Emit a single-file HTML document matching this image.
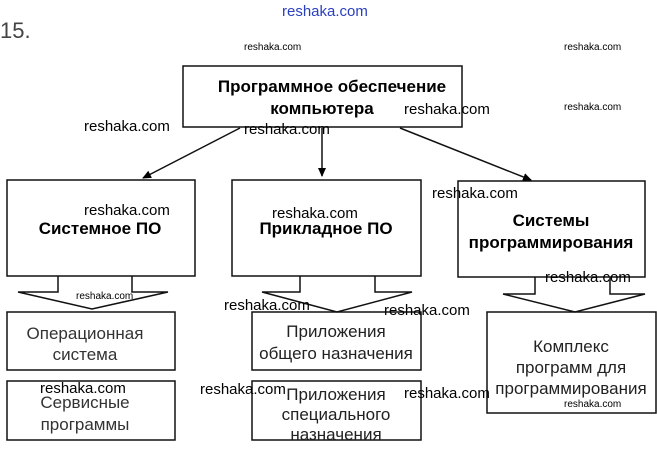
<!DOCTYPE html>
<html><head><meta charset="utf-8"><style>
body{margin:0;background:#fff}
svg text{font-family:"Liberation Sans",Arial,sans-serif}
</style></head><body>
<svg width="657" height="444" viewBox="0 0 657 444" xmlns="http://www.w3.org/2000/svg">
<defs><marker id="a" markerWidth="10" markerHeight="10" refX="8" refY="4" orient="auto" markerUnits="userSpaceOnUse"><path d="M0,0 L9,4 L0,8 z" fill="#000"/></marker></defs>
<g fill="none" stroke="#111" stroke-width="1.5">
<rect x="183" y="66" width="279" height="61"/>
<rect x="7" y="180" width="188" height="96"/>
<rect x="232" y="180" width="189" height="96"/>
<rect x="458" y="181" width="187" height="96"/>
<rect x="7" y="312" width="168" height="58"/>
<rect x="7" y="381" width="168" height="59"/>
<rect x="252" y="312" width="169" height="58"/>
<rect x="252" y="381" width="169" height="59"/>
<rect x="487" y="312" width="169" height="101"/>
<path d="M58,276 V292 H18 L92,309 L168,292 H132 V276"/>
<path d="M300,276 V292 H262 L337,312 L412,292 H375 V276"/>
<path d="M535,277 V294 H503 L575,312 L645,294 H610 V277"/>
<line x1="240" y1="128" x2="143" y2="178" marker-end="url(#a)"/>
<line x1="322" y1="128" x2="322" y2="176" marker-end="url(#a)"/>
<line x1="400" y1="128" x2="531" y2="180" marker-end="url(#a)"/>
</g>
<g text-anchor="middle" font-size="17">
<text x="332" y="92" font-weight="bold">Программное обеспечение</text>
<text x="322" y="114" font-weight="bold">компьютера</text>
<text x="100" y="234" font-weight="bold">Системное ПО</text>
<text x="326" y="234" font-weight="bold">Прикладное ПО</text>
<text x="551" y="226" font-weight="bold">Системы</text>
<text x="551" y="248" font-weight="bold">программирования</text>
<text x="85" y="339" fill="#333">Операционная</text>
<text x="85" y="360" fill="#333">система</text>
<text x="85" y="408" fill="#333">Сервисные</text>
<text x="85" y="430" fill="#333">программы</text>
<text x="336" y="337" fill="#222">Приложения</text>
<text x="336" y="359" fill="#222">общего назначения</text>
<text x="336" y="400" fill="#222">Приложения</text>
<text x="336" y="420" fill="#222">специального</text>
<text x="336" y="440" fill="#222">назначения</text>
<text x="571" y="352" fill="#222">Комплекс</text>
<text x="571" y="373" fill="#222">программ для</text>
<text x="571" y="394" fill="#222">программирования</text>
</g>
<text x="0" y="38" font-size="22" fill="#444">15.</text>
<g font-size="15" fill="#000">
<text x="282" y="16" fill="#2a3fbf">reshaka.com</text>
<text x="84" y="131">reshaka.com</text>
<text x="244" y="134">reshaka.com</text>
<text x="404" y="114">reshaka.com</text>
<text x="84" y="215">reshaka.com</text>
<text x="272" y="218">reshaka.com</text>
<text x="432" y="198">reshaka.com</text>
<text x="545" y="282">reshaka.com</text>
<text x="224" y="310">reshaka.com</text>
<text x="384" y="315">reshaka.com</text>
<text x="40" y="393">reshaka.com</text>
<text x="200" y="394">reshaka.com</text>
<text x="404" y="398">reshaka.com</text>
</g>
<g font-size="10" fill="#000">
<text x="244" y="50">reshaka.com</text>
<text x="564" y="50">reshaka.com</text>
<text x="564" y="110">reshaka.com</text>
<text x="76" y="299">reshaka.com</text>
<text x="564" y="407">reshaka.com</text>
</g>
</svg>
</body></html>
